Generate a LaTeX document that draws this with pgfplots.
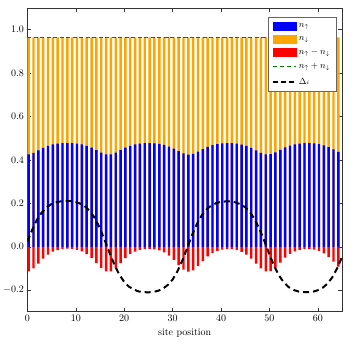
\documentclass[border=0pt]{standalone}
\usepackage{pgfplots}
\usepackage{pgfplotstable}
\pgfplotsset{compat=1.18}
\definecolor{mplorange}{RGB}{255,165,0}
\definecolor{mplgreen}{RGB}{0,128,0}
\definecolor{mplblue}{RGB}{0,0,255}
\definecolor{mplred}{RGB}{255,0,0}

\pgfplotstableread{
x up down diff
0 0.4257 0.5393 -0.1136
1 0.4324 0.5326 -0.1001
2 0.4439 0.5211 -0.0772
3 0.4551 0.5099 -0.0548
4 0.4645 0.5005 -0.0361
5 0.4712 0.4938 -0.0226
6 0.4751 0.4899 -0.0149
7 0.4772 0.4878 -0.0105
8 0.4780 0.4870 -0.0090
9 0.4775 0.4875 -0.0100
10 0.4755 0.4895 -0.0140
11 0.4717 0.4933 -0.0217
12 0.4653 0.4997 -0.0344
13 0.4563 0.5087 -0.0525
14 0.4451 0.5199 -0.0748
15 0.4334 0.5316 -0.0982
16 0.4260 0.5390 -0.1130
17 0.4260 0.5390 -0.1130
18 0.4334 0.5316 -0.0982
19 0.4448 0.5202 -0.0754
20 0.4563 0.5087 -0.0525
21 0.4653 0.4997 -0.0344
22 0.4712 0.4938 -0.0226
23 0.4755 0.4895 -0.0140
24 0.4770 0.4880 -0.0110
25 0.4775 0.4875 -0.0100
26 0.4765 0.4885 -0.0120
27 0.4741 0.4909 -0.0169
28 0.4694 0.4956 -0.0263
29 0.4619 0.5031 -0.0412
30 0.4522 0.5128 -0.0607
31 0.4402 0.5248 -0.0846
32 0.4299 0.5351 -0.1052
33 0.4250 0.5400 -0.1150
34 0.4284 0.5366 -0.1083
35 0.4379 0.5271 -0.0892
36 0.4497 0.5153 -0.0656
37 0.4602 0.5048 -0.0446
38 0.4680 0.4970 -0.0290
39 0.4731 0.4919 -0.0188
40 0.4760 0.4890 -0.0130
41 0.4770 0.4880 -0.0110
42 0.4770 0.4880 -0.0110
43 0.4748 0.4902 -0.0154
44 0.4708 0.4942 -0.0235
45 0.4645 0.5005 -0.0361
46 0.4551 0.5099 -0.0548
47 0.4436 0.5214 -0.0778
48 0.4324 0.5326 -0.1001
49 0.4257 0.5393 -0.1136
50 0.4265 0.5385 -0.1121
51 0.4345 0.5305 -0.0961
52 0.4461 0.5189 -0.0729
53 0.4574 0.5076 -0.0502
54 0.4662 0.4988 -0.0326
55 0.4722 0.4928 -0.0207
56 0.4755 0.4895 -0.0140
57 0.4770 0.4880 -0.0110
58 0.4772 0.4878 -0.0105
59 0.4760 0.4890 -0.0130
60 0.4729 0.4921 -0.0193
61 0.4676 0.4974 -0.0299
62 0.4594 0.5056 -0.0462
63 0.4485 0.5165 -0.0680
64 0.4367 0.5283 -0.0917
}\dens

\pgfplotstableread{
x delta
0 0.024
1 0.079
2 0.126
3 0.159
4 0.182
5 0.197
6 0.205
7 0.2095
8 0.211
9 0.210
10 0.206
11 0.198
12 0.184
13 0.162
14 0.130
15 0.084
16 0.029
17 -0.029
18 -0.084
19 -0.129
20 -0.162
21 -0.184
22 -0.197
23 -0.206
24 -0.209
25 -0.210
26 -0.208
27 -0.203
28 -0.193
29 -0.176
30 -0.151
31 -0.113
32 -0.064
33 -0.006
34 0.053
35 0.104
36 0.144
37 0.172
38 0.190
39 0.201
40 0.207
41 0.209
42 0.209
43 0.2045
44 0.196
45 0.182
46 0.159
47 0.125
48 0.079
49 0.024
50 -0.035
51 -0.089
52 -0.133
53 -0.165
54 -0.186
55 -0.199
56 -0.206
57 -0.209
58 -0.2095
59 -0.207
60 -0.2005
61 -0.189
62 -0.170
63 -0.1405
64 -0.099
65 -0.047
}\gap

\begin{document}
\begin{tikzpicture}
\begin{axis}[
  width=314.7pt, height=304pt, scale only axis,
  xmin=0, xmax=65, ymin=-0.3, ymax=1.1,
  xtick={0,10,20,30,40,50,60},
  ytick={-0.2,0,0.2,0.4,0.6,0.8,1.0},
  yticklabel style={/pgf/number format/fixed, /pgf/number format/fixed zerofill, /pgf/number format/precision=1},
  tick align=inside,
  xtick pos=both, ytick pos=both,
  major tick length=4pt,
  tick style={black!80, line width=0.5pt},
  axis line style={black!80, line width=0.9pt},
  xlabel={site position},
  legend cell align=left,
  legend style={at={(0.982,0.97)}, anchor=north east, font=\small,
    draw=black!60, line width=0.7pt, row sep=3.5pt, inner sep=4pt},
]
\addplot[ybar, bar width=0.5, bar shift=0pt, fill=mplorange, draw=none, forget plot]
  table[x expr=\thisrow{x}+0.25, y expr=\thisrow{up}+\thisrow{down}] {\dens};
\addplot[ybar, bar width=0.5, bar shift=0pt, fill=mplblue, draw=none, forget plot]
  table[x expr=\thisrow{x}+0.25, y=up] {\dens};
\addplot[ybar, bar width=0.5, bar shift=0pt, fill=mplred, draw=none, forget plot]
  table[x expr=\thisrow{x}+0.25, y=diff] {\dens};
\addplot[mplgreen, line width=1pt, dash pattern=on 4pt off 2.5pt, forget plot]
  table[x=x, y expr=\thisrow{up}+\thisrow{down}] {\dens};
\addplot[black, line width=2pt, dash pattern=on 6pt off 4pt, forget plot]
  table[x=x, y=delta] {\gap};

\addlegendimage{legend image code/.code={\fill[mplblue] (0pt,-4pt) rectangle (23pt,4pt);}}
\addlegendentry{$n_\uparrow$}
\addlegendimage{legend image code/.code={\fill[mplorange] (0pt,-4pt) rectangle (23pt,4pt);}}
\addlegendentry{$n_\downarrow$}
\addlegendimage{legend image code/.code={\fill[mplred] (0pt,-4pt) rectangle (23pt,4pt);}}
\addlegendentry{$n_\uparrow - n_\downarrow$}
\addlegendimage{legend image code/.code={\draw[mplgreen, line width=1pt, dash pattern=on 4pt off 3pt] (0pt,0pt) -- (23pt,0pt);}}
\addlegendentry{$n_\uparrow + n_\downarrow$}
\addlegendimage{legend image code/.code={\draw[black, line width=2pt, dash pattern=on 5pt off 3pt] (0pt,0pt) -- (23pt,0pt);}}
\addlegendentry{$\Delta_i$}
\end{axis}
\path (-27.3pt,-32pt) rectangle (325.7pt,312pt);
\end{tikzpicture}
\end{document}
